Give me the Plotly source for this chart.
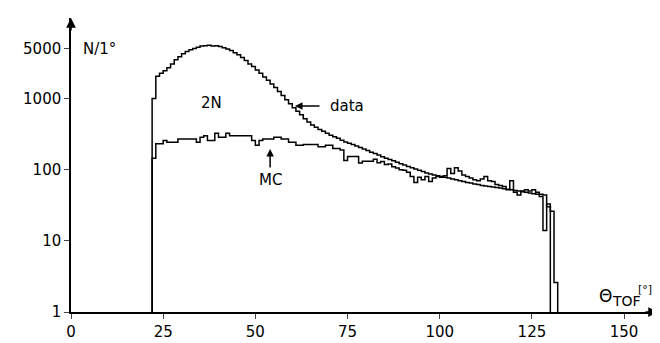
import numpy as np
import plotly.graph_objects as go

# bins: 1 degree wide, starting at 22 deg
bin_start = 22
bin_width = 1

data_counts = [1000, 2050, 2250, 2450, 2700, 3050, 3500, 3850, 4250, 4550,
               4850, 5050, 5250, 5450, 5500, 5600, 5450, 5500, 5350, 5150,
               4950, 4700, 4400, 4100, 3750, 3400, 3050, 2800, 2500, 2250,
               2000, 1800, 1600, 1420, 1250, 1100, 960, 840, 740, 660,
               590, 520, 465, 425, 395, 365, 345, 325, 305, 290,
               275, 258, 245, 235, 225, 215, 205, 195, 185, 176,
               168, 160, 152, 145, 139, 133, 127, 121, 116, 111,
               106, 102, 98, 94, 90, 87, 84, 82, 80, 78,
               76, 74, 72, 70, 68, 66, 65, 63, 62, 60,
               59, 58, 57, 56, 55, 54, 53, 52, 51, 50,
               49, 48, 47, 46, 45, 45, 44, 30, 26, 2.6]

mc_counts = [144, 231, 231, 256, 243, 243, 243, 269, 269, 269,
             269, 269, 243, 284, 299, 256, 256, 324, 284, 284,
             324, 299, 299, 299, 299, 299, 299, 256, 220, 256,
             269, 269, 269, 284, 284, 269, 269, 243, 243, 220,
             220, 225, 225, 225, 225, 209, 209, 220, 220, 198,
             198, 188, 134, 153, 153, 153, 124, 131, 131, 131,
             140, 125, 130, 118, 120, 110, 105, 100, 98, 92,
             80, 66, 78, 72, 80, 68, 76, 80, 78, 82,
             104, 88, 106, 96, 84, 80, 76, 72, 70, 74,
             80, 70, 68, 62, 60, 58, 52, 70, 48, 44,
             50, 52, 50, 52, 48, 42, 14, 33]

x_ticks = [0, 25, 50, 75, 100, 125, 150]
y_ticks = [1, 10, 100, 1000, 5000]


def step_xy(counts):
    edges = bin_start + bin_width * np.arange(len(counts) + 1)
    xs = [edges[0]] + list(edges[:-1]) + [edges[-1]]
    ys = [1] + list(counts) + [1]
    return xs, ys


fig = go.Figure()
for counts in (data_counts, mc_counts):
    xs, ys = step_xy(counts)
    fig.add_trace(go.Scatter(x=xs, y=ys, mode="lines", line_shape="hv",
                             line=dict(color="black", width=1.5),
                             showlegend=False, hoverinfo="skip"))

FAM = "DejaVu Sans"
font = dict(family=FAM, size=15, color="black")

fig.update_layout(
    width=660, height=343,
    margin=dict(l=63, r=10, t=10, b=25),
    paper_bgcolor="white", plot_bgcolor="white",
    font=font,
    xaxis=dict(range=[0, 159.2], tickvals=x_ticks, ticks="outside", ticklen=5,
               tickwidth=1.2, showline=True, linecolor="black", linewidth=1.5,
               showgrid=False, zeroline=False, tickfont=font),
    yaxis=dict(type="log", range=[0, 4.13], tickvals=y_ticks,
               ticktext=[str(v) for v in y_ticks], ticks="outside", ticklen=5,
               tickwidth=1.2, showline=True, linecolor="black", linewidth=1.5,
               showgrid=False, zeroline=False, tickfont=font),
)


def label(x, y, text, size=15, anchor="center"):
    return dict(x=x, y=y, text=text, showarrow=False, xanchor=anchor,
                yanchor="middle", font=dict(family=FAM, size=size, color="black"))


ann = [
    # axis arrowheads
    dict(xref="paper", yref="paper", x=0, y=1, ax=0, ay=14, axref="pixel",
         ayref="pixel", showarrow=True, arrowhead=2, arrowsize=1.3,
         arrowwidth=1.5, arrowcolor="black", text=""),
    dict(xref="paper", yref="paper", x=1, y=0, ax=-14, ay=0, showarrow=True,
         arrowhead=2, arrowsize=1.3, arrowwidth=1.5, arrowcolor="black", text=""),
    # labels
    label(2.7, 3.70, "N/1°", anchor="left"),
    label(38.0, 2.935, "2N"),
    label(69.7, 2.895, "data", anchor="left"),
    dict(x=60.75, y=2.895, ax=26, ay=0, text="", showarrow=True, arrowhead=2,
         arrowsize=1, arrowwidth=1.5, arrowcolor="black"),
    label(54.0, 1.85, "MC"),
    dict(x=54.0, y=2.29, ax=0, ay=20, text="", showarrow=True, arrowhead=2,
         arrowsize=1, arrowwidth=1.5, arrowcolor="black"),
    # axis title  Θ_TOF [°]
    label(142.6, 0.225, "Θ", size=17, anchor="left"),
    label(146.2, 0.15, "TOF", size=14, anchor="left"),
    label(153.2, 0.32, "[°]", size=11, anchor="left"),
]
fig.update_layout(annotations=ann)

fig.write_html("out.html")
